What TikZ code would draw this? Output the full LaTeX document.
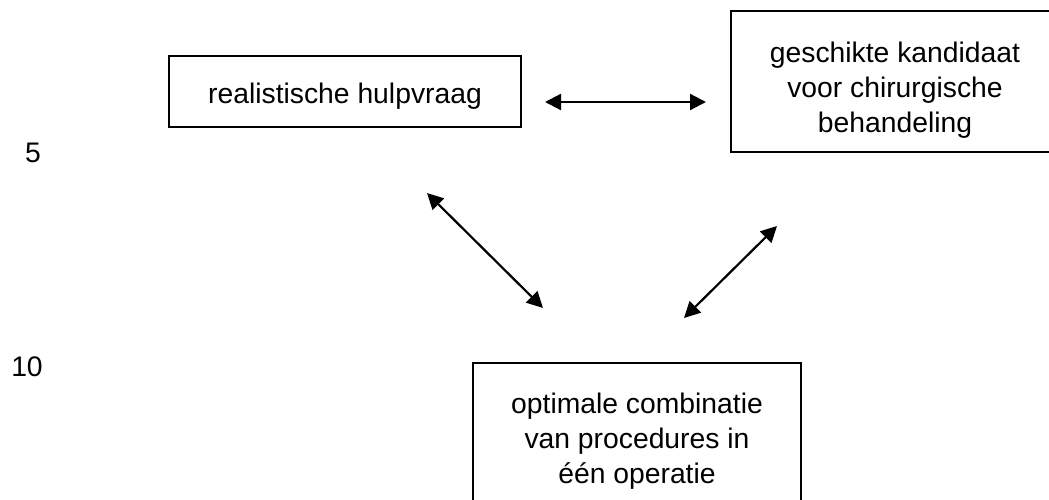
\documentclass[tikz,border=0pt]{standalone}
\usepackage{fontspec}
\setmainfont{Liberation Sans}
\usetikzlibrary{arrows.meta}
\begin{document}
\begin{tikzpicture}[x=1pt,y=-1pt,
  box/.style={draw=black,line width=1.5pt,minimum width=#1,inner sep=0pt},
  label/.style={align=center,inner sep=0pt,font=\fontsize{28.3}{35}\selectfont},
  twoway/.style={line width=2.2pt,{Triangle[length=16pt,width=16pt]}-{Triangle[length=16pt,width=16pt]}}]
\useasboundingbox (0,0) rectangle (1049,500);

% boxes
\node[box=352pt,minimum height=71pt] (hulp) at (345,91.5) {};
\node[box=340pt,minimum height=141pt] (kand) at (901,81.5) {};
\node[box=328pt,minimum height=157pt] (oper) at (637,441.5) {};

% box texts
\node[label] (hulpT) at (345,96) {realistische hulpvraag};
\node[label] (kandT) at (895,90) {geschikte kandidaat\\voor chirurgische\\behandeling};
\node[label] (operT) at (637,441) {optimale combinatie\\van procedures in\\één operatie};

% line numbers
\node[label] (n5) at (33,153) {5};
\node[label] (n10) at (27,367) {10};

% arrow end points
\coordinate (h1) at (545,102);
\coordinate (h2) at (706,102);
\coordinate (d1) at (427,193);
\coordinate (d2) at (543,308);
\coordinate (e1) at (777,226);
\coordinate (e2) at (684,318);

\draw[twoway] (h1) -- (h2);
\draw[twoway] (d1) -- (d2);
\draw[twoway] (e1) -- (e2);
\end{tikzpicture}
\end{document}
